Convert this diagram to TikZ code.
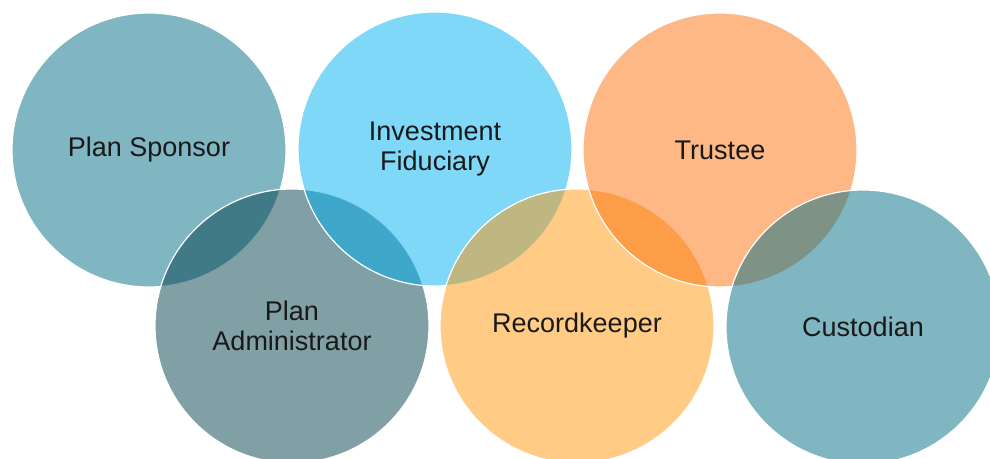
\documentclass[tikz,border=0pt]{standalone}
\usepackage{fontspec}
\setmainfont{Liberation Sans}
\usepackage{tikz}

\definecolor{SponsorTeal}{RGB}{1,109,133}
\definecolor{AdminSlate}{RGB}{1,65,77}
\definecolor{FiduciaryBlue}{RGB}{0,177,239}
\definecolor{TrusteeOrange}{RGB}{251,113,13}
\definecolor{KeeperAmber}{RGB}{255,151,11}

\tikzset{
  role/.style={circle, minimum size=274pt, inner sep=0pt,
     draw=white, line width=1.2pt, fill opacity=0.5, text opacity=1,
     align=center, text=black!90,
     font=\fontsize{27}{30}\selectfont}
}

\begin{document}
\begin{tikzpicture}[x=1pt, y=-1pt]
      \useasboundingbox (0,0) rectangle (990,458);

      \node (sponsor) at (149,150) [role, fill=SponsorTeal] {Plan Sponsor};
      \node (admin) at (292,326) [role, fill=AdminSlate] {Plan\\Administrator};
      \node (fiduciary) at (435,149) [role, fill=FiduciaryBlue] {Investment\\Fiduciary};
      \node (keeper) at (577,326) [role, fill=KeeperAmber] {Recordkeeper};
      \node (trustee) at (720,150) [role, fill=TrusteeOrange] {Trustee};
      \node (custodian) at (863,327) [role, fill=SponsorTeal] {Custodian};
   \end{tikzpicture}
\end{document}
